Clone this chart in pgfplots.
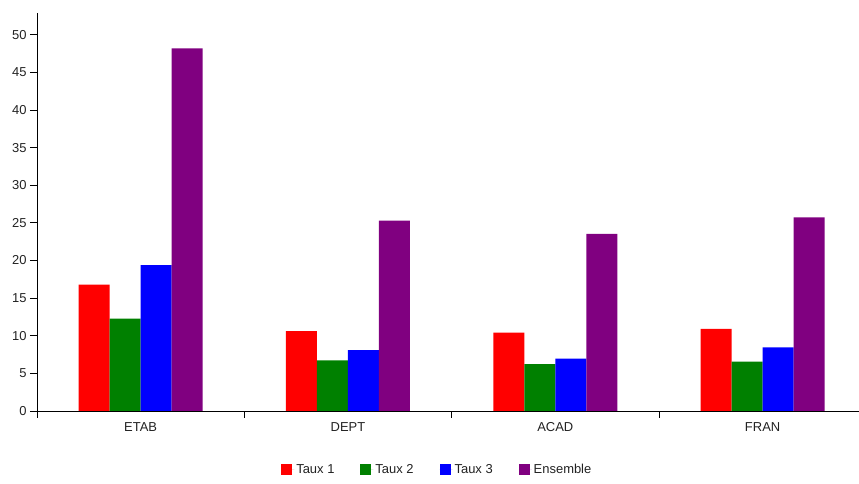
\documentclass[border=0pt]{standalone}
\usepackage{fontspec}
\setmainfont{Liberation Sans}
\usepackage{pgfplots}
\pgfplotsset{compat=1.18}
\definecolor{cred}{RGB}{255,0,0}
\definecolor{cgreen}{RGB}{0,128,0}
\definecolor{cblue}{RGB}{0,0,255}
\definecolor{cpurple}{RGB}{128,0,128}
\definecolor{txt}{RGB}{34,34,34}
\begin{document}
\begin{tikzpicture}[x=1bp,y=1bp]
\useasboundingbox (-37,-73) rectangle (822,411);
\begin{axis}[
  at={(0,0)}, anchor=south west,
  scale only axis, width=822bp, height=398bp,
  xmin=-0.5, xmax=3.465, ymin=0, ymax=52.9,
  axis x line*=bottom, axis y line*=left,
  axis line style={-, black, line width=0.9bp},
  xtick={-0.5,0.5,1.5,2.5}, xticklabels={},
  extra x ticks={0,1,2,3},
  extra x tick labels={ETAB,DEPT,ACAD,FRAN},
  extra x tick style={major tick length=0pt},
  ytick={0,5,...,50},
  tick align=outside, major tick length=7bp,
  tick style={black, line width=0.9bp},
  /pgf/number format/assume math mode=true,
  tick label style={font=\fontsize{13}{15}\selectfont, text=txt},
  yticklabel style={xshift=0bp},
  xticklabel style={yshift=-8bp},
  ybar=0pt, bar width=31bp,
  enlargelimits=false,
  legend style={at={(0.487,-0.148)}, anchor=center, draw=none,
    legend columns=4, font=\fontsize{13}{15}\selectfont, text=txt,
    /tikz/every even column/.append style={column sep=24bp}},
  legend image code/.code={\fill[#1] (0bp,-5.5bp) rectangle (11bp,5.5bp); \path (0bp,0bp) -- (13bp,0bp);},
]
\addplot[fill=cred, draw=none] coordinates {(0,16.8) (1,10.6) (2,10.4) (3,10.93)};
\addplot[fill=cgreen, draw=none] coordinates {(0,12.27) (1,6.73) (2,6.24) (3,6.55)};
\addplot[fill=cblue, draw=none] coordinates {(0,19.4) (1,8.1) (2,6.95) (3,8.46)};
\addplot[fill=cpurple, draw=none] coordinates {(0,48.2) (1,25.3) (2,23.55) (3,25.72)};
\legend{Taux 1, Taux 2, Taux 3, Ensemble}
\end{axis}
\end{tikzpicture}
\end{document}
